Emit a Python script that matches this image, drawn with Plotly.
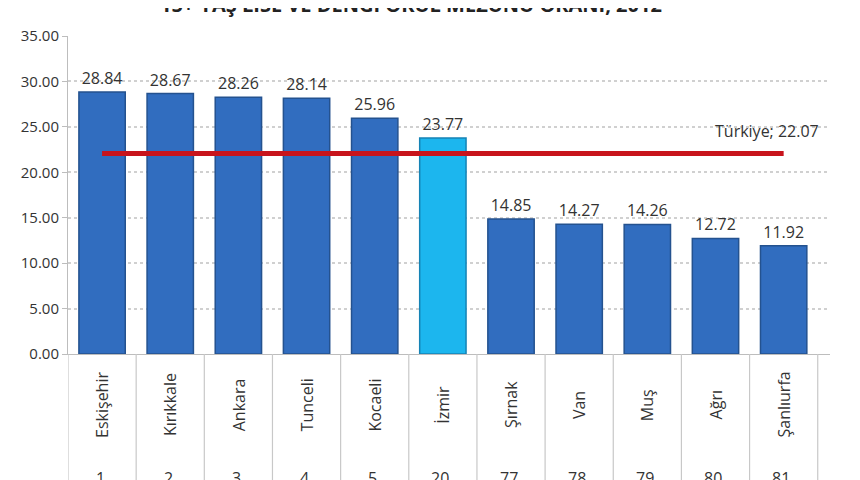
import plotly.graph_objects as go

# ---------------------------------------------------------------------------
# Data
# ---------------------------------------------------------------------------
provinces = ['Eskişehir', 'Kırıkkale', 'Ankara', 'Tunceli', 'Kocaeli', 'İzmir',
             'Şırnak', 'Van', 'Muş', 'Ağrı', 'Şanlıurfa']
ranks = ['1.', '2.', '3.', '4.', '5.', '20.', '77.', '78.', '79.', '80.', '81.']
rates = [28.84, 28.67, 28.26, 28.14, 25.96, 23.77, 14.85, 14.27, 14.26, 12.72, 11.92]
turkiye_rate = 22.07
highlight = 'İzmir'
y_ticks = [0, 5, 10, 15, 20, 25, 30, 35]

FONT = 'Open Sans, Liberation Sans, sans-serif'
BLUE = '#316dbf'
CYAN = '#1cb6ee'

bar_colours = [CYAN if p == highlight else BLUE for p in provinces]
edge_colours = ['#1583b5' if p == highlight else '#24528f' for p in provinces]

fig = go.Figure()

fig.add_trace(go.Bar(
    x=provinces,
    y=rates,
    marker=dict(color=bar_colours, line=dict(color=edge_colours, width=1.5)),
    text=[f'{v:.2f}' for v in rates],
    textposition='outside',
    textfont=dict(size=16, color='#333333', family=FONT),
    cliponaxis=False,
    hoverinfo='skip',
))

# national average line, from first bar centre to last bar centre
fig.add_trace(go.Scatter(
    x=[provinces[0], provinces[-1]],
    y=[turkiye_rate, turkiye_rate],
    mode='lines',
    line=dict(color='#c8141c', width=5),
    hoverinfo='skip',
))

annotations = [
    dict(x=10.55, y=turkiye_rate, xref='x', yref='y', xanchor='right',
         yanchor='bottom', yshift=9, showarrow=False,
         text=f'Türkiye; {turkiye_rate:.2f}',
         font=dict(size=16, color='#333333', family=FONT)),
    # title, cropped at the top of the picture
    dict(x=0.45, y=1.1, xref='paper', yref='paper', xanchor='center',
         yanchor='middle', showarrow=False,
         text='<b>15+ YAŞ LİSE VE DENGİ OKUL MEZUNU ORANI, 2012</b>',
         font=dict(size=20, color='#222222', family=FONT)),
]

# rotated province names and rank numbers under the axis
for p, r in zip(provinces, ranks):
    annotations.append(dict(x=p, y=-0.16, xref='x', yref='paper', textangle=-90,
                            xanchor='center', yanchor='middle', showarrow=False,
                            text=p, font=dict(size=16, color='#333333', family=FONT)))
    annotations.append(dict(x=p, y=-0.39, xref='x', yref='paper',
                            xanchor='center', yanchor='middle', showarrow=False,
                            text=r, font=dict(size=16, color='#333333', family=FONT)))

# category separators below the axis
shapes = []
for k in range(len(provinces) + 1):
    shapes.append(dict(type='line', xref='x', yref='paper', x0=k - 0.5, x1=k - 0.5,
                       y0=0, y1=-0.45, line=dict(color='#c8c8c8', width=1.2)))

fig.update_layout(
    width=860, height=480,
    margin=dict(l=60, r=38, t=28, b=134),
    paper_bgcolor='white',
    plot_bgcolor='white',
    showlegend=False,
    bargap=0.32,
    annotations=annotations,
    shapes=shapes,
    font=dict(family=FONT, color='#333333'),
)

fig.update_xaxes(
    range=[-0.5, 10.68],
    showticklabels=False,
    showgrid=False,
    showline=True, linecolor='#bdbdbd', linewidth=1,
    ticks='',
)

fig.update_yaxes(
    range=[0, 35],
    tickvals=y_ticks,
    tickformat='.2f',
    tickfont=dict(size=15, color='#333333', family=FONT),
    showgrid=True, gridcolor='#d0d0d0', griddash='dot', gridwidth=1.5,
    showline=True, linecolor='#bdbdbd', linewidth=1,
    ticks='outside', ticklen=5, tickcolor='#bdbdbd',
    zeroline=False,
)

fig.write_html('out.html')
